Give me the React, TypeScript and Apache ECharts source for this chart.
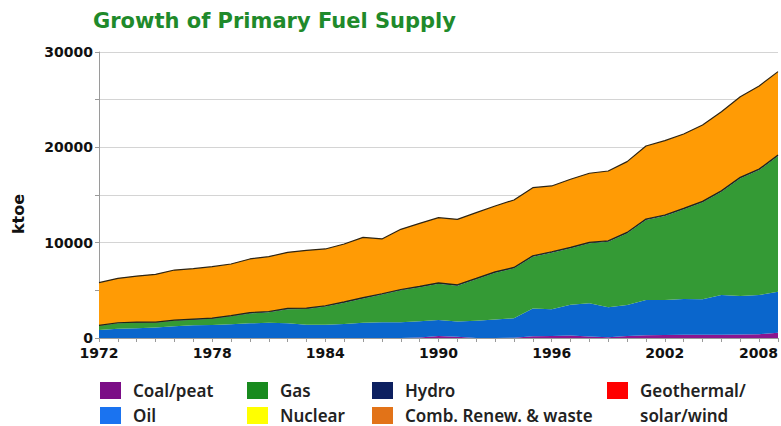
import React, { useEffect, useRef } from "react";
import * as echarts from "echarts";

const years = [
  "1972","1973","1974","1975","1976","1977","1978","1979","1980","1981","1982","1983","1984","1985","1986","1987","1988","1989","1990",
  "1991","1992","1993","1994","1995","1996","1997","1998","1999","2000","2001","2002","2003","2004","2005","2006","2007","2008",
];

const coal = [0,0,0,0,0,0,0,0,0,0,0,0,0,0,0,0,0,60,200,120,0,0,30,180,220,250,150,80,220,300,320,330,330,350,380,400,550];
const oil = [840,980,1010,1100,1240,1330,1360,1450,1540,1600,1560,1400,1380,1460,1600,1640,1660,1700,1700,1600,1800,1950,2030,2920,2790,3250,3490,3140,3240,3690,3670,3760,3730,4160,4030,4110,4310];
const gas = [420,560,600,500,560,590,660,820,1040,1100,1460,1650,1920,2240,2550,2910,3340,3570,3800,3770,4360,4900,5250,5430,5940,5910,6290,6880,7520,8390,8810,9410,10170,10840,12340,13110,14230];
const nuclear = [0,0,0,0,0,0,0,0,0,0,0,0,0,0,0,0,0,0,0,0,0,0,0,0,0,0,0,0,0,0,0,0,0,0,0,0,0];
const hydro = [60,60,60,60,70,70,70,70,80,80,80,80,80,90,90,90,90,90,90,90,90,90,90,100,100,100,100,100,100,100,100,100,100,100,100,100,100];
const combRenew = [4480,4660,4830,5020,5260,5280,5390,5420,5630,5750,5890,6070,5960,6070,6320,5750,6310,6610,6830,6870,6900,6910,7080,7140,6900,7140,7250,7320,7420,7660,7800,7800,8010,8290,8460,8710,8750];
const geothermal = [0,0,0,0,0,0,0,0,0,0,0,0,0,0,0,0,0,0,0,0,0,0,0,0,0,0,0,0,0,0,0,0,0,0,0,0,0];

const yTicks = [0, 10000, 20000, 30000];

export default function App() {
  const ref = useRef<HTMLDivElement>(null);
  useEffect(() => {
    if (!ref.current) return;
    const chart = echarts.init(ref.current, null, { renderer: "svg" });
    const mk = (
      name: string,
      data: number[],
      legendColor: string,
      areaColor: string,
      line?: { color: string; width: number }
    ) => ({
      name,
      type: "line",
      stack: "total",
      data,
      symbol: "none",
      itemStyle: { color: legendColor },
      areaStyle: { color: areaColor, opacity: 1 },
      lineStyle: line ? { color: line.color, width: line.width } : { width: 0 },
      emphasis: { disabled: true },
    });
    const legendText = {
      fontFamily: "Noto Sans",
      fontWeight: 600,
      fontSize: 17,
      lineHeight: 17,
      color: "#222",
      padding: [0, 0, 0, 7],
    };
    const legendBase = {
      orient: "vertical",
      icon: "rect",
      itemWidth: 21,
      itemHeight: 17,
      itemGap: 8,
      padding: 0,
      height: 43,
      textStyle: legendText,
      selectedMode: false,
    };
    chart.setOption({
      animation: false,
      title: {
        text: "Growth of Primary Fuel Supply",
        left: 88,
        top: 5,
        textStyle: {
          fontFamily: "DejaVu Sans",
          fontWeight: "bold",
          fontSize: 21,
          color: "#1F8A2B",
        },
      },
      grid: { left: 99, top: 52, right: 3, bottom: 88 },
      legend: [
        { ...legendBase, left: 100, top: 382, data: ["Coal/peat", "Oil"] },
        { ...legendBase, left: 247, top: 382, data: ["Gas", "Nuclear"] },
        { ...legendBase, left: 372, top: 382, data: ["Hydro", "Comb. Renew. & waste"] },
        {
          ...legendBase,
          left: 607,
          top: 382,
          data: ["Geothermal/solar/wind"],
          formatter: () => "Geothermal/",
        },
      ],
      xAxis: {
        type: "category",
        data: years,
        boundaryGap: false,
        axisLine: { lineStyle: { color: "#9a9a9a", width: 1 } },
        axisTick: { interval: 0, length: 4, lineStyle: { color: "#9a9a9a" } },
        axisLabel: {
          interval: 5,
          margin: 8,
          lineHeight: 13,
          fontFamily: "DejaVu Sans",
          fontWeight: "bold",
          fontSize: 14,
          color: "#111",
          alignMaxLabel: "right",
        },
        splitLine: { show: false },
      },
      yAxis: {
        type: "value",
        min: 0,
        max: 30000,
        interval: 5000,
        axisLine: { show: true, lineStyle: { color: "#9a9a9a" } },
        axisTick: { show: true, length: 4, lineStyle: { color: "#9a9a9a" } },
        axisLabel: {
          margin: 6,
          lineHeight: 12,
          fontFamily: "DejaVu Sans",
          fontWeight: "bold",
          fontSize: 14,
          color: "#111",
          formatter: (v: number) => (yTicks.includes(v) ? String(v) : ""),
        },
        splitLine: { lineStyle: { color: "#d4d4d4", width: 1 } },
      },
      graphic: [
        {
          type: "text",
          x: 18,
          y: 214,
          rotation: Math.PI / 2,
          style: {
            text: "ktoe",
            fontFamily: "DejaVu Sans",
            fontWeight: "bold",
            fontSize: 16,
            fill: "#111",
            align: "center",
            verticalAlign: "middle",
          },
        },
        {
          type: "text",
          x: 640,
          y: 415,
          style: {
            text: "solar/wind",
            fontFamily: "Noto Sans",
            fontWeight: 600,
            fontSize: 17,
            lineHeight: 17,
            fill: "#222",
            align: "left",
            verticalAlign: "middle",
          },
        },
      ],
      series: [
        mk("Coal/peat", coal, "#7B0D86", "#8B168F"),
        mk("Oil", oil, "#1A73F0", "#0A66CC"),
        mk("Gas", gas, "#188A1E", "#349A35"),
        mk("Nuclear", nuclear, "#FFFF00", "#FFFF00"),
        mk("Hydro", hydro, "#0D2060", "#1A2A50", { color: "#1E2418", width: 1.2 }),
        mk("Comb. Renew. & waste", combRenew, "#E27318", "#FF9B05", { color: "#2E2412", width: 1.2 }),
        mk("Geothermal/solar/wind", geothermal, "#FF0000", "#FF0000"),
      ],
    });
    return () => chart.dispose();
  }, []);
  return (
    <div
      ref={ref}
      style={{ position: "fixed", left: 0, top: 0, width: 781, height: 426, background: "#fff" }}
    />
  );
}
